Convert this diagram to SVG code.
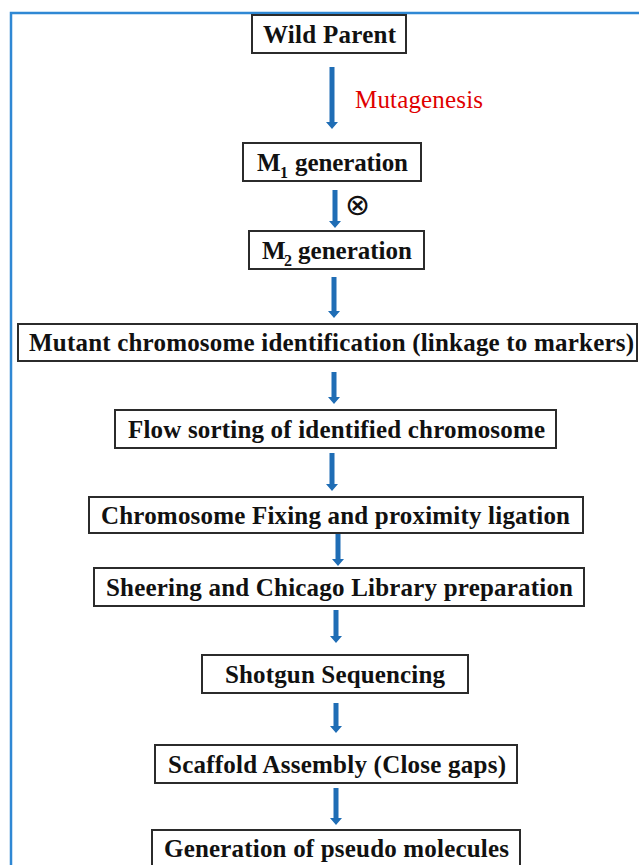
<svg xmlns="http://www.w3.org/2000/svg" width="639" height="865" viewBox="0 0 639 865">
<style>
.box{fill:#fff;stroke:#2b2b2b;stroke-width:2}
.t{font-family:'Liberation Serif','Times New Roman',serif;font-weight:bold;font-size:25px;fill:#111}
.sub{font-family:'Liberation Serif','Times New Roman',serif;font-weight:bold;font-size:16px;fill:#111}
.arr{fill:#1f6db5}
</style>
<rect width="639" height="865" fill="#fff"/>
<rect x="11" y="13" width="640" height="870" fill="none" stroke="#2f88d4" stroke-width="2.5"/>
<g id="connectors" class="arr">
<path d="M329.5,67 h5 v55 h3.5 l-6,7 l-6,-7 h3.5 z"/>
<path d="M332.5,190 h5 v31 h3.5 l-6,7 l-6,-7 h3.5 z"/>
<path d="M331.5,277 h5 v34 h3.5 l-6,7 l-6,-7 h3.5 z"/>
<path d="M331.5,372 h5 v25 h3.5 l-6,7 l-6,-7 h3.5 z"/>
<path d="M329.5,453 h5 v31 h3.5 l-6,7 l-6,-7 h3.5 z"/>
<path d="M335.5,534 h5 v25 h3.5 l-6,7 l-6,-7 h3.5 z"/>
<path d="M333.5,610 h5 v26 h3.5 l-6,7 l-6,-7 h3.5 z"/>
<path d="M333.5,703 h5 v23 h3.5 l-6,7 l-6,-7 h3.5 z"/>
<path d="M333.5,788 h5 v30 h3.5 l-6,7 l-6,-7 h3.5 z"/>
<text x="355" y="108" font-family="'Liberation Serif','Times New Roman',serif" font-size="25" fill="#e00000" textLength="128" lengthAdjust="spacing">Mutagenesis</text>
<text x="357.5" y="215" font-family="'DejaVu Sans',sans-serif" font-size="30" fill="#111" text-anchor="middle">⊗</text>
</g>
<g id="n1"><rect class="box" x="252" y="15" width="154" height="38"/><text class="t" x="263" y="43" textLength="133" lengthAdjust="spacing">Wild Parent</text></g>
<g id="n2"><rect class="box" x="243" y="143" width="178" height="38"/><text class="t" x="257" y="171">M</text><text class="sub" x="280" y="178">1</text><text class="t" x="295" y="171" textLength="113" lengthAdjust="spacing">generation</text></g>
<g id="n3"><rect class="box" x="249" y="231" width="175" height="38"/><text class="t" x="262" y="259">M</text><text class="sub" x="284" y="266">2</text><text class="t" x="298" y="259" textLength="114" lengthAdjust="spacing">generation</text></g>
<g id="n4"><rect class="box" x="18" y="324" width="619" height="37"/><text class="t" x="29" y="351" textLength="605" lengthAdjust="spacing">Mutant chromosome identification (linkage to markers)</text></g>
<g id="n5"><rect class="box" x="115" y="410" width="441" height="38"/><text class="t" x="128" y="438" textLength="417" lengthAdjust="spacing">Flow sorting of identified chromosome</text></g>
<g id="n6"><rect class="box" x="89" y="497" width="494" height="36"/><text class="t" x="101" y="524" textLength="469" lengthAdjust="spacing">Chromosome Fixing and proximity ligation</text></g>
<g id="n7"><rect class="box" x="94" y="568" width="490" height="38"/><text class="t" x="106" y="596" textLength="467" lengthAdjust="spacing">Sheering and Chicago Library preparation</text></g>
<g id="n8"><rect class="box" x="202" y="655" width="266" height="38"/><text class="t" x="225" y="683" textLength="220" lengthAdjust="spacing">Shotgun Sequencing</text></g>
<g id="n9"><rect class="box" x="155" y="745" width="362" height="38"/><text class="t" x="168" y="773" textLength="338" lengthAdjust="spacing">Scaffold Assembly (Close gaps)</text></g>
<g id="n10"><rect class="box" x="152" y="830" width="368" height="40"/><text class="t" x="164" y="857" textLength="345" lengthAdjust="spacing">Generation of pseudo molecules</text></g>
</svg>
